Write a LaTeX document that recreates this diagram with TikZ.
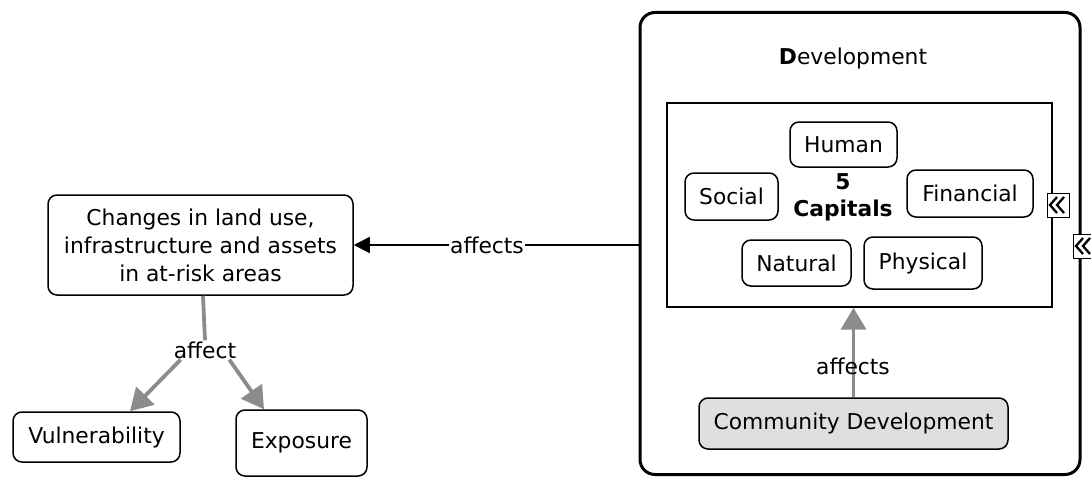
\documentclass[tikz,border=0pt]{standalone}
\usepackage{fontspec}
\setmainfont{DejaVu Sans}
\usetikzlibrary{arrows.meta}
\tikzset{
  concept/.style={draw=black, line width=1.5pt, rounded corners=9pt, fill=white,
    align=center, inner sep=0pt, font=\fontsize{21.8}{28}\selectfont},
  phrase/.style={inner sep=1pt, font=\fontsize{21.8}{28}\selectfont},
  grayarrow/.style={draw=gray!90, line width=3.8pt, -{Triangle[length=22pt,width=25pt]}},
  grayline/.style={draw=gray!90, line width=3.8pt},
  blackarrow/.style={draw=black, line width=1.5pt, -{Triangle[length=16pt,width=16pt]}},
  expander/.style={draw=black, line width=1pt, fill=white, inner sep=0pt,
    minimum width=22pt, minimum height=24pt,
    path picture={
      \draw[line width=2.3pt, line join=miter]
        ([shift={(-1pt,-4pt)}]path picture bounding box.north) --
        ([shift={(-8pt,0pt)}]path picture bounding box.center) --
        ([shift={(-1pt,4pt)}]path picture bounding box.south);
      \draw[line width=2.3pt, line join=miter]
        ([shift={(6pt,-4pt)}]path picture bounding box.north) --
        ([shift={(-1pt,0pt)}]path picture bounding box.center) --
        ([shift={(6pt,4pt)}]path picture bounding box.south);
    }}
}
\begin{document}
\begin{tikzpicture}[x=1pt, y=-1pt]
\useasboundingbox (0,0) rectangle (1091,476);

% Development container with its title
\node[draw=black, line width=3pt, rounded corners=15pt, minimum width=440pt,
      minimum height=462pt, inner sep=0pt] (dev) at (860,243.5) {};
\node[phrase] (devtitle) at (853,58) {\textbf{D}evelopment};

% Five capitals group
\node[draw=black, line width=1.4pt, minimum width=385pt, minimum height=204pt,
      inner sep=0pt] (capitals) at (859.5,205) {};
\node[concept, minimum width=107pt, minimum height=45pt] (human) at (843.5,144.5) {Human};
\node[concept, minimum width=93pt, minimum height=47pt] (social) at (731.5,196.5) {Social};
\node[concept, minimum width=126pt, minimum height=47pt] (financial) at (970,193.5) {Financial};
\node[concept, minimum width=109pt, minimum height=46pt] (natural) at (796.5,263) {Natural};
\node[concept, minimum width=118pt, minimum height=52pt] (physical) at (923,263) {Physical};
\node[phrase, align=center, font=\fontsize{21.8}{27}\bfseries\selectfont] (five) at (843,197) {5\\Capitals};

% Community development feeding the capitals
\node[concept, fill=gray!25, minimum width=309pt, minimum height=51pt] (community) at (853.5,423.5) {Community Development};
\draw[grayarrow] (community.north) -- (capitals.south -| community.north);
\node[phrase] (affects2) at (853,366) {affects};

% Left-hand concepts
\node[concept, minimum width=305pt, minimum height=100pt] (changes) at (200.5,245)
  {Changes in land use,\\infrastructure and assets\\in at-risk areas};
\node[concept, minimum width=167pt, minimum height=50pt] (vuln) at (96.5,437) {Vulnerability};
\node[concept, minimum width=131pt, minimum height=66pt] (expo) at (301.5,443) {Exposure};

% Development affects changes
\node[phrase, fill=white] (affects1) at (487,245) {affects};
\draw[black, line width=1.5pt] (dev.west |- affects1) -- (affects1.east);
\draw[blackarrow] (affects1.west) -- (changes.east |- affects1);

% Changes affect vulnerability and exposure
\node[phrase] (affect) at (205,350) {affect};
\draw[grayline] (changes.south -| 203,0) -- (affect.north);
\draw[grayarrow] (affect.south west) ++(8,0) coordinate (a1) -- (vuln.north -| 130,0);
\draw[grayarrow] (affect.south east) ++(-8,0) coordinate (a2) -- (expo.north -| 264,0);

% Expander handles
\node[expander] (exp1) at (1058,205) {};
\node[expander] (exp2) at (1084,246) {};
\end{tikzpicture}
\end{document}
